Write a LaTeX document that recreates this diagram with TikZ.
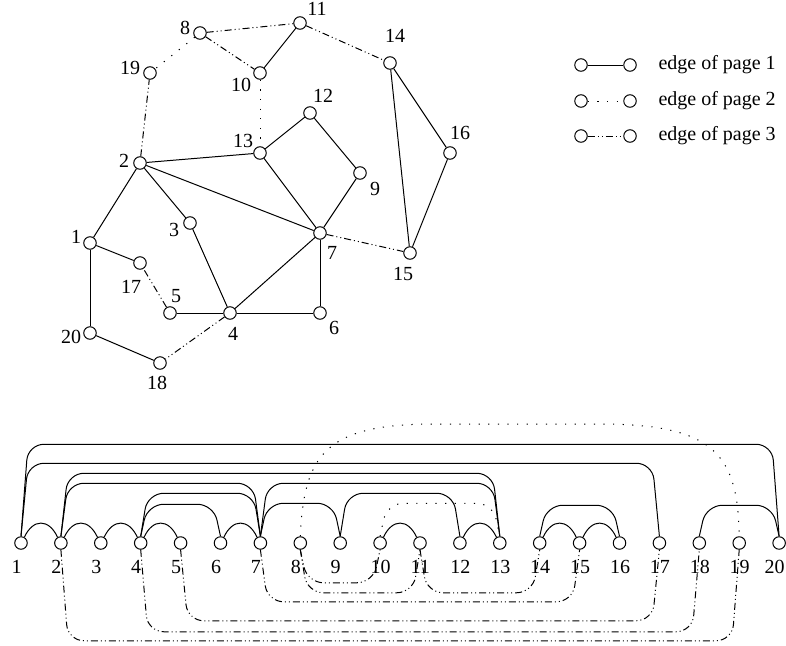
\documentclass[tikz,border=0pt]{standalone}
\usepackage{fontspec}
\setmainfont{Liberation Serif}
\usetikzlibrary{calc}
\tikzset{
  vtx/.style={circle,draw,fill=white,inner sep=0pt,minimum size=6.25pt},
  lbl/.style={inner sep=0pt},
  pageone/.style={solid},
  pagetwo/.style={dash pattern=on 0.6pt off 4.2pt},
  pagethree/.style={dash pattern=on 3.5pt off 1.5pt on 0.5pt off 1.5pt on 0.5pt off 1.5pt},
}

\begin{document}
\begin{tikzpicture}[x=0.5pt,y=0.5pt,line width=0.5pt]
  \useasboundingbox (0,0) rectangle (786,645);
  % the graph
  \foreach \n/\px/\py/\lx/\ly in {1/90/402/76/408, 2/140/482/124/484, 3/190/422/174/415,
      4/230/332/233/311, 5/170/332/176/349, 6/320/332/334/317, 7/320/412/332/392,
      8/200/612/185/617, 9/360/472/375/456, 10/260/572/241/560, 11/300/622/317/636,
      12/310/532/323/549, 13/260/492/243/504, 14/390/582/395/609, 15/410/392/403/371,
      16/450/492/460/512, 17/140/382/131/358, 18/160/282/157/262, 19/150/572/130/577,
      20/90/312/71/308}{
    \node[vtx] (t\n) at (\px,\py) {};
    \node[lbl] (tl\n) at (\lx,\ly) {\n};
  }
  \foreach \a/\b in {1/2,1/20,1/17,2/13,2/7,2/3,3/4,4/5,4/6,4/7,7/6,7/13,7/9,12/13,9/12,
      10/11,14/15,14/16,15/16,18/20}
    \draw[pageone] (t\a) -- (t\b);
  \foreach \a/\b in {8/19,10/13}
    \draw[pagetwo] (t\a) -- (t\b);
  \foreach \a/\b in {8/10,8/11,11/14,7/15,5/17,4/18,2/19}
    \draw[pagethree] (t\a) -- (t\b);

  % legend
  \foreach \k/\s/\py in {1/pageone/580, 2/pagetwo/544, 3/pagethree/509}{
    \node[vtx] (ka\k) at (581,\py) {};
    \node[vtx] (kb\k) at (630,\py) {};
    \draw[\s] (ka\k) -- (kb\k);
    \node[lbl,anchor=west] (kt\k) at (658,\py) {edge of page \k};
  }

  % the book embedding
  \foreach \i in {1,...,20}
    \node[vtx] (b\i) at ({21+(\i-1)*39.9},102) {};
  \foreach \i in {1,...,19}
    \node[lbl,anchor=north west] (bl\i) at ({11+(\i-1)*39.9},85) {\i};
  \node[lbl,anchor=north east] (bl20) at (785,85) {20};
  \foreach \a/\b in {1/2,2/3,3/4,4/5,6/7,10/11,12/13,14/15,15/16}
    \draw[pageone] (b\a.60) to[out=65,in=115,looseness=1.6] (b\b.120);
  \foreach \a/\b/\h in {1/20/46pt, 1/17/36.5pt, 2/13/31.5pt, 2/7/26.5pt, 4/7/21.5pt,
      4/6/16pt, 7/13/26.5pt, 7/9/16.5pt, 9/12/21.5pt, 14/16/15.5pt, 18/20/15.5pt}
    \draw[pageone,rounded corners=8pt] (b\a.north) -- ++(3.5pt,\h)
      -- ($(b\b.north)+(-3.5pt,\h)$) -- (b\b.north);
  \draw[pagetwo,rounded corners=8pt] (b10.north) -- ++(3.5pt,16.5pt)
    -- ($(b13.north)+(-3.5pt,16.5pt)$) -- (b13.north);
  \draw[pagetwo] (b8.north) .. controls (304,190) and (325,220) .. (430,221)
    -- (600,221) .. controls (715,221) and (738,190) .. (b19.north);
  \foreach \a/\b/\d in {8/10/16.5pt, 8/11/21.5pt, 11/14/21.5pt, 7/15/26pt,
      5/17/35.5pt, 4/18/41pt, 2/19/45.5pt}
    \draw[pagethree,rounded corners=8pt] (b\a.south) -- ++(3.5pt,-\d)
      -- ($(b\b.south)+(-3.5pt,-\d)$) -- (b\b.south);
\end{tikzpicture}
\end{document}
